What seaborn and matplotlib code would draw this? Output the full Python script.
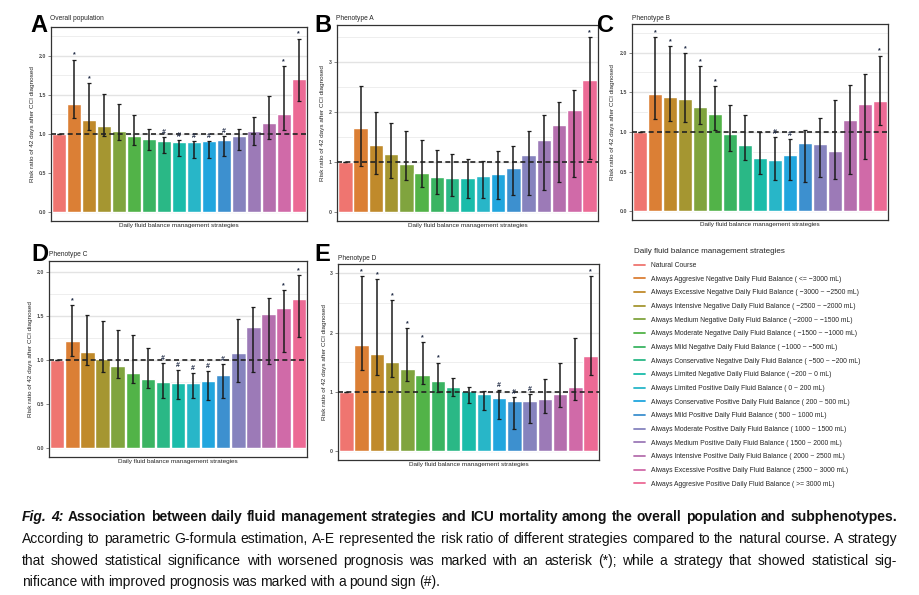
import numpy as np
import matplotlib
matplotlib.use("Agg")
import matplotlib.pyplot as plt
from matplotlib.lines import Line2D
from matplotlib import font_manager
import seaborn as sns

# Strategies (x categories / legend entries)
categories = [
    "Natural Course",
    "Always Aggresive Negative Daily Fluid Balance ( <= \u22123000 mL)",
    "Always Excessive Negative Daily Fluid Balance ( \u22123000 ~ \u22122500 mL)",
    "Always Intensive Negative Daily Fluid Balance ( \u22122500 ~ \u22122000 mL)",
    "Always Medium Negative Daily Fluid Balance ( \u22122000 ~ \u22121500 mL)",
    "Always Moderate Negative Daily Fluid Balance ( \u22121500 ~ \u22121000 mL)",
    "Always Mild Negative Daily Fluid Balance ( \u22121000 ~ \u2212500 mL)",
    "Always Conservative Negative Daily Fluid Balance ( \u2212500 ~ \u2212200 mL)",
    "Always Limited Negative Daily Fluid Balance ( \u2212200 ~ 0 mL)",
    "Always Limited Positive Daily Fluid Balance ( 0 ~ 200 mL)",
    "Always Conservative Positive Daily Fluid Balance ( 200 ~ 500 mL)",
    "Always Mild Positive Daily Fluid Balance ( 500 ~ 1000 mL)",
    "Always Moderate Positive Daily Fluid Balance ( 1000 ~ 1500 mL)",
    "Always Medium Positive Daily Fluid Balance ( 1500 ~ 2000 mL)",
    "Always Intensive Positive Daily Fluid Balance ( 2000 ~ 2500 mL)",
    "Always Excessive Positive Daily Fluid Balance ( 2500 ~ 3000 mL)",
    "Always Aggresive Positive Daily Fluid Balance ( >= 3000 mL)",
]

palette = ["#EF7570", "#DB7F35", "#C08A2B", "#A59631", "#80A43E", "#52B348",
           "#3AB462", "#2AB886", "#1ABCAA", "#28B6C8", "#21A6DE", "#3D90CF",
           "#8683BE", "#9C7AB7", "#B56FAE", "#D06AA8", "#EC6A95"]

# Panel A - overall population
a_rr = [1.00, 1.38, 1.18, 1.10, 1.04, 0.98, 0.93, 0.91, 0.895, 0.895, 0.91, 0.92, 0.97, 1.04, 1.135, 1.25, 1.70]
a_lo = [1.00, 1.21, 1.05, 0.97, 0.92, 0.86, 0.80, 0.76, 0.72, 0.69, 0.69, 0.72, 0.79, 0.86, 0.94, 1.05, 1.42]
a_hi = [1.00, 1.95, 1.65, 1.51, 1.39, 1.24, 1.06, 0.955, 0.92, 0.91, 0.91, 0.97, 1.06, 1.22, 1.49, 1.87, 2.22]
a_mark = ["", "*", "*", "", "", "", "", "#", "#", "#", "#", "#", "", "", "", "*", "*"]

# Panel B - phenotype A
b_rr = [1.00, 1.68, 1.34, 1.16, 0.96, 0.78, 0.70, 0.68, 0.68, 0.72, 0.76, 0.89, 1.14, 1.44, 1.74, 2.04, 2.64]
b_lo = [1.00, 0.93, 0.77, 0.69, 0.65, 0.51, 0.37, 0.33, 0.29, 0.29, 0.27, 0.35, 0.35, 0.45, 0.61, 0.70, 1.07]
b_hi = [1.00, 2.53, 2.00, 1.79, 1.63, 1.45, 1.25, 1.17, 1.07, 1.03, 1.22, 1.33, 1.62, 1.95, 2.21, 2.45, 3.50]
b_mark = [""] * 16 + ["*"]

# Panel C - phenotype B
c_rr = [1.00, 1.475, 1.44, 1.41, 1.32, 1.22, 0.97, 0.83, 0.67, 0.64, 0.705, 0.86, 0.845, 0.76, 1.15, 1.35, 1.39]
c_lo = [1.00, 1.16, 1.14, 1.13, 1.10, 1.03, 0.76, 0.64, 0.47, 0.39, 0.39, 0.37, 0.43, 0.41, 0.47, 0.66, 1.09]
c_hi = [1.00, 2.19, 2.08, 1.99, 1.83, 1.58, 1.34, 1.21, 1.00, 0.94, 0.91, 1.03, 1.18, 1.40, 1.59, 1.735, 1.96]
c_mark = ["", "*", "*", "*", "*", "*", "", "", "", "#", "#", "", "", "", "", "", "*"]

# Panel D - phenotype C
d_rr = [1.00, 1.22, 1.09, 1.015, 0.94, 0.86, 0.79, 0.755, 0.745, 0.745, 0.77, 0.835, 1.085, 1.38, 1.53, 1.60, 1.70]
d_lo = [1.00, 1.05, 0.95, 0.87, 0.80, 0.74, 0.69, 0.57, 0.565, 0.57, 0.545, 0.57, 0.755, 0.865, 0.96, 1.09, 1.26]
d_hi = [1.00, 1.63, 1.51, 1.45, 1.35, 1.29, 1.135, 0.97, 0.89, 0.86, 0.88, 0.96, 1.47, 1.61, 1.71, 1.795, 1.97]
d_mark = ["", "*", "", "", "", "", "", "#", "#", "#", "#", "#", "", "", "", "*", "*"]

# Panel E - phenotype D
e_rr = [1.00, 1.79, 1.64, 1.50, 1.385, 1.285, 1.18, 1.08, 1.01, 0.965, 0.90, 0.85, 0.845, 0.88, 0.965, 1.08, 1.61]
e_lo = [1.00, 1.365, 1.29, 1.25, 1.18, 1.13, 1.00, 0.93, 0.82, 0.69, 0.55, 0.37, 0.47, 0.64, 0.75, 0.86, 1.28]
e_hi = [1.00, 2.955, 2.905, 2.55, 2.075, 1.84, 1.495, 1.24, 1.09, 1.02, 1.03, 0.91, 0.96, 1.21, 1.49, 1.905, 2.95]
e_mark = ["", "*", "*", "*", "*", "*", "*", "", "", "", "#", "#", "#", "", "", "", "*"]

caption_lines = [
    [("Fig. 4:", "bold", "italic"),
     ("Association between daily fluid management strategies and ICU mortality among the overall population and subphenotypes.", "bold", "normal")],
    [("According to parametric G-formula estimation, A-E represented the risk ratio of different strategies compared to the natural course. A strategy", "normal", "normal")],
    [("that showed statistical significance with worsened prognosis was marked with an asterisk (*); while a strategy that showed statistical sig-", "normal", "normal")],
    [("nificance with improved prognosis was marked with a pound sign (#).", "normal", "normal")],
]

sns.set_theme(style="white")
available = {f.name for f in font_manager.fontManager.ttflist}
base_font = "Liberation Sans" if "Liberation Sans" in available else "DejaVu Sans"
cap_font = "Liberation Sans Narrow" if "Liberation Sans Narrow" in available else base_font
plt.rcParams["font.family"] = [base_font, "DejaVu Sans"]

W, H = 919, 595
fig = plt.figure(figsize=(W / 100, H / 100), dpi=100)
fig.patch.set_facecolor("white")


def box(left, top, right, bottom):
    return [left / W, 1 - bottom / H, (right - left) / W, (bottom - top) / H]


panels = [
    # letter, title, rr, lo, hi, marks, box, ylim, ticks, fmt, letter xy, title xy, ylabel x
    ("A", "Overall population", a_rr, a_lo, a_hi, a_mark, (51, 27, 307, 221), (-0.115, 2.37),
     np.arange(0, 2.01, 0.5), "{:.1f}", (30, 32), (50, 19), -0.062),
    ("B", "Phenotype A", b_rr, b_lo, b_hi, b_mark, (337, 25, 598, 221), (-0.18, 3.74),
     np.arange(0, 3.01, 1), "{:.0f}", (314, 32), (336, 19), -0.046),
    ("C", "Phenotype B", c_rr, c_lo, c_hi, c_mark, (632, 24, 888, 220), (-0.11, 2.36),
     np.arange(0, 2.01, 0.5), "{:.1f}", (597, 32), (632, 18), -0.066),
    ("D", "Phenotype C", d_rr, d_lo, d_hi, d_mark, (49, 261, 307, 457), (-0.10, 2.13),
     np.arange(0, 2.01, 0.5), "{:.1f}", (31, 261), (49, 255), -0.062),
    ("E", "Phenotype D", e_rr, e_lo, e_hi, e_mark, (338, 264, 599, 460), (-0.15, 3.16),
     np.arange(0, 3.01, 1), "{:.0f}", (314, 261), (338, 258), -0.042),
]

x = np.arange(len(categories))
for letter, title, rr, lo, hi, marks, bx, ylim, ticks, fmt, lxy, txy, ylx in panels:
    ax = fig.add_axes(box(*bx))
    rr, lo, hi = np.array(rr), np.array(lo), np.array(hi)
    sns.barplot(x=categories, y=rr, hue=categories, palette=palette, legend=False,
                width=0.95, errorbar=None, saturation=1, ax=ax, zorder=2)
    ax.errorbar(x, rr, yerr=[rr - lo, hi - rr], fmt="none", ecolor="#1c1c1c",
                elinewidth=1.1, capsize=1.3, capthick=0.9, zorder=4)
    ax.axhline(1.0, color="#222222", lw=1.2, ls=(0, (3, 2)), zorder=5)
    for i, m in enumerate(marks):
        if m:
            ax.annotate(m, (i, hi[i]), xytext=(0, 0.8), textcoords="offset points",
                        ha="center", va="bottom", fontsize=5, fontweight="bold",
                        color="#1f2a44", zorder=6)
    ax.set_xlim(-0.55, len(categories) - 0.45)
    ax.set_ylim(*ylim)
    ax.set_yticks(ticks)
    ax.set_yticklabels([fmt.format(t) for t in ticks], fontsize=3.8,
                       fontweight="bold", color="#4D4D4D")
    step = ticks[1] - ticks[0]
    ax.set_yticks(np.arange(0, ylim[1], step / 2), minor=True)
    ax.grid(axis="y", which="major", color="#E3E3E3", lw=1.0, zorder=0)
    ax.grid(axis="y", which="minor", color="#EBEBEB", lw=0.6, zorder=0)
    ax.grid(axis="x", visible=False)
    ax.set_axisbelow(True)
    ax.set_xticks([])
    ax.tick_params(axis="y", which="major", length=2, width=0.5, color="#555555", pad=1.5, left=True)
    ax.tick_params(axis="y", which="minor", length=0)
    for s in ax.spines.values():
        s.set_color("#333333")
        s.set_linewidth(0.9)
    ax.set_xlabel("Daily fluid balance management strategies", fontsize=4.6, labelpad=1.5)
    ax.set_ylabel("Risk ratio of 42 days after CCI diagnosed", fontsize=4.6)
    ax.yaxis.set_label_coords(ylx, 0.5)
    fig.text(lxy[0] / W, 1 - lxy[1] / H, letter, fontsize=17, fontweight="bold",
             ha="left", va="baseline", color="black")
    fig.text(txy[0] / W, 1 - txy[1] / H, title, fontsize=4.8, ha="left", va="center")

# legend of strategies
handles = [Line2D([0], [0], color=c, lw=1.3) for c in palette]
leg = fig.legend(handles, categories, loc="upper left",
                 bbox_to_anchor=(631 / W, 1 - 245 / H), frameon=False,
                 title="Daily fluid balance management strategies",
                 fontsize=4.9, title_fontsize=5.8, handlelength=1.5,
                 handletextpad=0.9, labelspacing=0.98, borderpad=0,
                 alignment="left")

# caption, justified word by word
fig.canvas.draw()
renderer = fig.canvas.get_renderer()
x0, x1 = 22, 897
cap_y = [517, 539, 561, 582]
for li, (segments, yy) in enumerate(zip(caption_lines, cap_y)):
    words = []
    for text, weight, style in segments:
        for w in text.split(" "):
            words.append((w, weight, style))
    objs = []
    for w, weight, style in words:
        t = fig.text(0, 1 - yy / H, w, fontsize=10, family=[cap_font, "DejaVu Sans"],
                     fontweight=weight, fontstyle=style, ha="left", va="center",
                     color="#111111")
        objs.append(t)
    widths = [t.get_window_extent(renderer).width for t in objs]
    if li < len(caption_lines) - 1:
        gap = (x1 - x0 - sum(widths)) / (len(objs) - 1)
    else:
        gap = 3.2
    cx = x0
    for t, wd in zip(objs, widths):
        t.set_x(cx / W)
        cx += wd + gap

fig.savefig("out.png", dpi=100, facecolor="white")
